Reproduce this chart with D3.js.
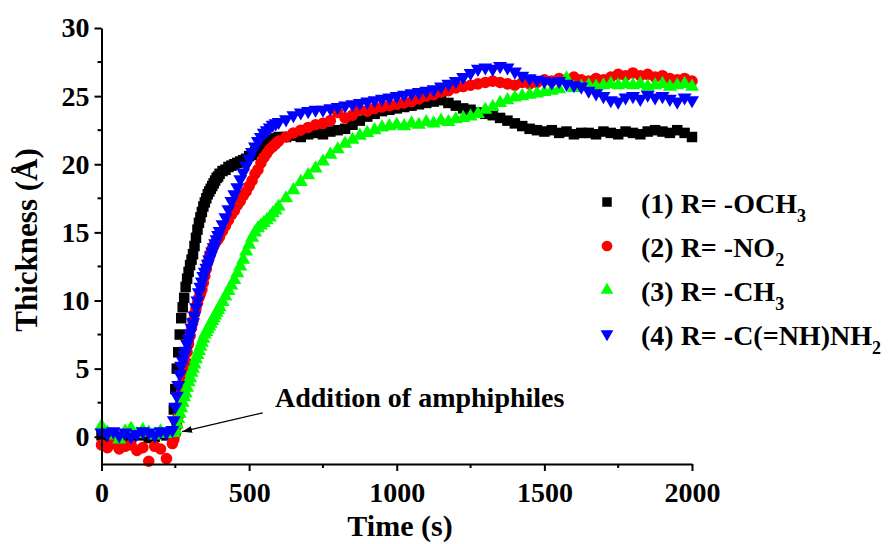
<!DOCTYPE html>
<html>
<head>
<meta charset="utf-8">
<script src="https://cdn.jsdelivr.net/npm/d3@7"></script>
<style>
  body { margin: 0; background: #fff; }
  text { font-family: "Liberation Serif", "Times New Roman", serif; font-weight: bold; }
</style>
</head>
<body>
<div id="chart"></div>
<script>
// time points (s), shared by all four series
const times = [0,20,40,60,80,100,120,140,160,180,200,220,240,
  245,250,255,260,265,270,275,280,285,290,295,300,305,310,315,320,325,330,335,340,345,350,355,360,365,370,375,380,385,390,395,400,
  410,420,430,440,450,460,470,480,490,500,510,520,530,540,550,560,570,580,590,600,
  625,650,675,700,725,750,775,800,825,850,875,900,925,950,975,1000,1025,1050,1075,1100,1125,1150,1175,1200,1225,1250,1275,1300,1325,1350,1375,1400,1425,1450,1475,1500,1525,1550,1575,1600,1625,1650,1675,1700,1725,1750,1775,1800,1825,1850,1875,1900,1925,1950,1975,2000];

// thickness (Å) for each compound
const och3 = [0.1,0.0,0.2,-0.1,0.1,0.0,0.2,0.1,-0.1,0.0,0.2,0.1,0.3,
  2.0,3.5,5.0,6.2,7.5,8.7,9.5,10.2,11.0,11.6,12.1,12.6,13.0,13.4,14.0,14.6,15.2,15.7,16.1,16.5,16.9,17.2,17.5,17.8,18.0,18.2,18.4,18.6,18.8,19.0,19.1,19.3,
  19.5,19.6,19.8,19.9,20.0,20.1,20.2,20.3,20.4,20.6,20.7,20.9,21.0,21.2,21.4,21.5,21.7,21.8,21.9,22.0,
  22.0,22.1,22.0,22.2,22.3,22.2,22.4,22.5,22.6,22.9,23.2,23.5,23.7,23.9,24.0,24.1,24.2,24.3,24.4,24.5,24.6,24.7,24.5,24.3,24.1,24.0,23.8,23.7,23.6,23.4,23.2,23.0,22.8,22.6,22.5,22.4,22.5,22.3,22.4,22.2,22.3,22.3,22.2,22.4,22.3,22.2,22.4,22.3,22.2,22.4,22.5,22.4,22.3,22.5,22.3,22.0];

const no2 = [-0.6,-0.8,-0.5,-0.9,-0.7,-0.6,-1.0,-0.8,-1.8,-0.7,-0.9,-1.6,-0.5,
  -0.2,0.2,0.8,1.5,2.3,3.2,4.0,4.8,5.5,6.2,6.8,7.4,8.0,8.5,9.0,9.4,9.8,10.2,10.5,10.8,11.3,11.8,12.3,12.8,13.2,13.5,13.8,14.0,14.2,14.4,14.5,14.7,
  15.1,15.5,15.9,16.3,16.6,17.0,17.3,17.7,18.0,18.4,18.8,19.3,19.6,20.1,20.5,20.8,21.1,21.3,21.5,21.7,
  22.0,22.3,22.5,22.7,22.9,23.0,23.2,23.8,23.4,23.6,24.0,23.9,24.1,24.2,24.3,24.4,24.5,24.6,24.8,25.0,25.1,25.3,25.4,25.6,25.7,25.8,25.9,26.0,26.1,26.0,25.9,25.8,26.0,25.9,26.0,26.2,26.1,26.3,26.2,26.4,26.2,26.1,26.3,26.2,26.4,26.6,26.5,26.7,26.5,26.6,26.4,26.5,26.3,26.2,26.3,26.1];

const ch3 = [0.8,0.3,0.1,-0.2,0.4,0.6,0.2,0.5,0.3,0.1,0.4,0.2,0.3,
  0.3,0.5,0.9,1.3,1.7,2.1,2.5,2.9,3.2,3.6,4.0,4.3,4.7,5.0,5.3,5.7,6.0,6.3,6.6,6.9,7.2,7.5,7.7,7.9,8.1,8.3,8.5,8.7,8.9,9.1,9.3,9.5,
  9.9,10.3,10.7,11.1,11.5,12.0,12.5,13.0,13.6,14.1,14.6,15.0,15.3,15.5,15.7,15.9,16.1,16.4,16.6,16.9,
  17.5,18.1,18.7,19.2,19.7,20.2,20.7,21.1,21.5,21.8,22.1,22.3,22.5,22.7,22.8,22.9,22.8,23.0,22.9,23.1,23.0,23.2,23.1,23.3,23.4,23.5,23.7,24.0,24.2,24.5,24.7,24.9,25.0,25.1,25.2,25.3,25.4,25.5,26.3,25.6,25.7,25.8,25.7,25.8,25.9,25.8,25.9,25.8,25.9,25.7,25.8,25.9,25.7,25.8,25.9,25.7];

const amidine = [0.3,0.2,0.4,0.1,0.3,0.0,0.2,0.4,0.3,0.1,0.4,0.3,0.5,
  1.2,2.2,3.0,3.8,4.6,5.2,5.6,6.0,6.3,6.8,7.2,7.6,8.0,8.4,8.9,9.5,10.0,10.6,11.0,11.4,11.8,12.1,12.4,12.7,13.0,13.3,13.6,13.9,14.2,14.5,14.8,15.1,
  15.6,16.1,16.7,17.3,17.8,18.3,18.9,19.4,19.9,20.4,20.9,21.3,21.7,22.0,22.3,22.5,22.7,22.9,23.0,23.1,
  23.3,23.6,23.8,23.9,24.0,24.0,24.1,24.2,24.3,24.4,24.5,24.6,24.7,24.8,24.9,25.0,25.1,25.2,25.3,25.4,25.5,25.7,25.9,26.1,26.4,26.7,27.0,27.1,27.0,27.2,27.1,26.8,26.5,26.3,26.2,26.1,26.0,26.1,25.9,25.8,25.7,25.4,25.2,25.0,24.7,24.6,24.9,25.0,24.8,25.1,24.9,25.0,24.8,24.6,24.9,24.7];

const seriesValues = [och3, no2, ch3, amidine];
const seriesColors = ["#000000", "#ff0000", "#00ff00", "#0000ff"];
const legendMain = ["(1) R= -OCH", "(2) R= -NO", "(3) R= -CH", "(4) R= -C(=NH)NH"];
const legendSub = ["3", "2", "3", "2"];

const xTicks = [0, 500, 1000, 1500, 2000];
const xMinor = [250, 750, 1250, 1750];
const yTicks = [0, 5, 10, 15, 20, 25, 30];
const yMinor = [2.5, 7.5, 12.5, 17.5, 22.5, 27.5];

const width = 891, height = 544;
const svg = d3.select("#chart").append("svg")
    .attr("width", width)
    .attr("height", height);

const x = d3.scaleLinear().domain([0, 2000]).range([101.5, 692]);
const y = d3.scaleLinear().domain([-2, 30]).range([464, 28]);

// symbols: square, circle, triangle up, triangle down
const symbolTypes = [d3.symbolSquare, d3.symbolCircle, d3.symbolTriangle, d3.symbolTriangle];
const symbolSizes = [110, 105, 85, 85];
const rot = [0, 0, 0, 180];

// data points
seriesValues.forEach((vals, i) => {
    svg.append("g")
        .selectAll("path")
        .data(times.map((t, j) => [t, vals[j]]))
        .enter().append("path")
        .attr("d", d3.symbol().type(symbolTypes[i]).size(symbolSizes[i]))
        .attr("transform", d => `translate(${x(d[0])},${y(d[1])}) rotate(${rot[i]})`)
        .attr("fill", seriesColors[i]);
});

// axes
const xAxis = svg.append("g")
    .attr("transform", `translate(0,${y(-2)})`)
    .call(d3.axisBottom(x).tickValues(xTicks).tickFormat(d3.format("d"))
        .tickSize(7).tickSizeOuter(0).tickPadding(11));
const yAxis = svg.append("g")
    .attr("transform", `translate(${x(0)},0)`)
    .call(d3.axisLeft(y).tickValues(yTicks).tickFormat(d3.format("d"))
        .tickSize(7).tickSizeOuter(0).tickPadding(5));

[xAxis, yAxis].forEach(a => {
    a.select(".domain").attr("stroke", "#000").attr("stroke-width", 2);
    a.selectAll(".tick line").attr("stroke", "#000").attr("stroke-width", 2);
    a.selectAll(".tick text").attr("font-size", 28).attr("fill", "#000")
        .style("font-family", '"Liberation Serif", "Times New Roman", serif').style("font-weight", "bold");
});

svg.append("g").selectAll("line").data(xMinor).enter().append("line")
    .attr("x1", d => x(d)).attr("x2", d => x(d))
    .attr("y1", y(-2)).attr("y2", y(-2) + 4)
    .attr("stroke", "#000").attr("stroke-width", 2);
svg.append("g").selectAll("line").data(yMinor).enter().append("line")
    .attr("x1", x(0)).attr("x2", x(0) - 4)
    .attr("y1", d => y(d)).attr("y2", d => y(d))
    .attr("stroke", "#000").attr("stroke-width", 2);

// axis titles
svg.append("text")
    .attr("x", 400).attr("y", 536)
    .attr("text-anchor", "middle")
    .attr("font-size", 30)
    .text("Time (s)");
svg.append("text")
    .attr("transform", "translate(37,240) rotate(-90)")
    .attr("text-anchor", "middle")
    .attr("font-size", 31)
    .text("Thickness (Å)");

// annotation
svg.append("defs").append("marker")
    .attr("id", "arrow")
    .attr("viewBox", "0 0 10 10")
    .attr("refX", 10).attr("refY", 5)
    .attr("markerWidth", 10).attr("markerHeight", 10)
    .attr("markerUnits", "userSpaceOnUse")
    .attr("orient", "auto")
    .append("path").attr("d", "M0,1.5 L10,5 L0,8.5 Z").attr("fill", "#000");
svg.append("line")
    .attr("x1", x(546)).attr("y1", y(1.76))
    .attr("x2", x(273)).attr("y2", y(0.37))
    .attr("stroke", "#000").attr("stroke-width", 1.3)
    .attr("marker-end", "url(#arrow)");
svg.append("text")
    .attr("x", 275).attr("y", 407)
    .attr("font-size", 28)
    .text("Addition of amphiphiles");

// legend
const legend = svg.append("g");
seriesColors.forEach((c, i) => {
    const by = 213 + i * 44;
    legend.append("path")
        .attr("d", d3.symbol().type(symbolTypes[i]).size(i < 2 ? 90 : 70))
        .attr("transform", `translate(607,${by - 11}) rotate(${rot[i]})`)
        .attr("fill", c);
    const t = legend.append("text")
        .attr("x", 641).attr("y", by)
        .attr("font-size", 28);
    t.append("tspan").text(legendMain[i]);
    t.append("tspan").attr("font-size", 18).attr("dy", 9).text(legendSub[i]);
});
</script>
</body>
</html>
